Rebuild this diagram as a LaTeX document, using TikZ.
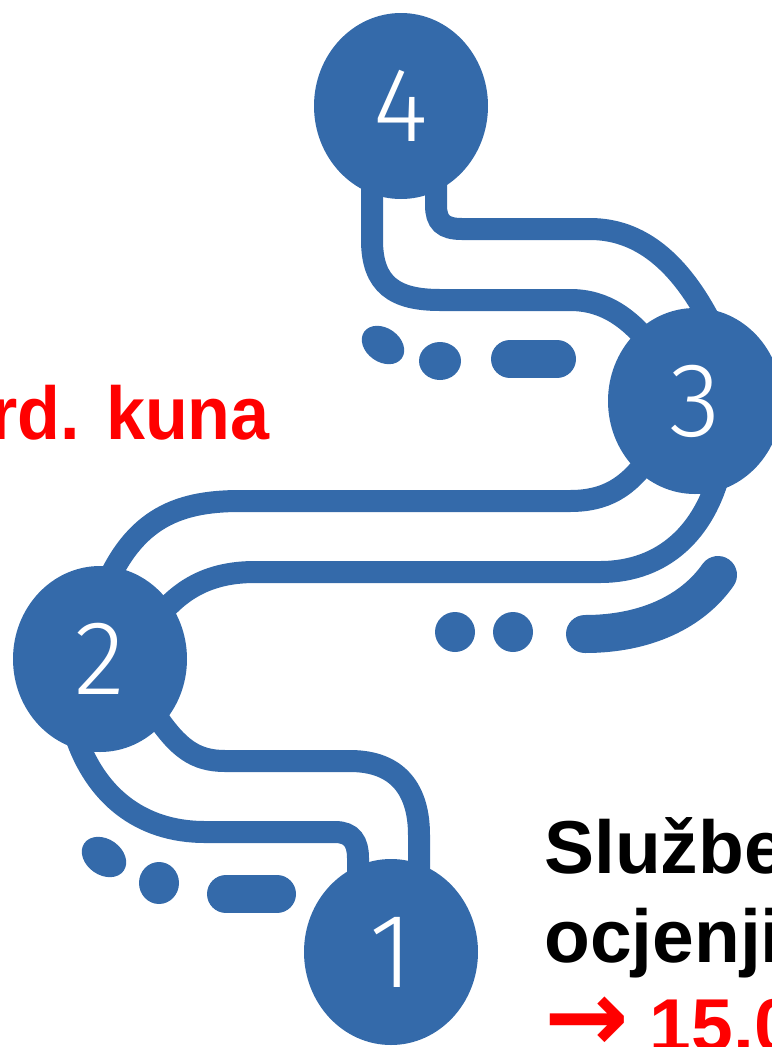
\documentclass[tikz,border=0pt]{standalone}
\usepackage{fontspec}
\setmainfont{Liberation Sans}
\newfontfamily\digitfont{Fira Sans Light}
\newfontfamily\arrowfont{DejaVu Sans}
\usetikzlibrary{shapes.geometric, calc, backgrounds}
\definecolor{roadblue}{RGB}{52,106,170}
\newlength\iconpx
\setlength\iconpx{0.025cm}
\tikzset{
    stop/.style={ % numbered stops along the road
        ellipse,
        fill=roadblue,
        inner sep=0pt,
        minimum width=174\iconpx,
        minimum height=186\iconpx,
        text=white,
        font=\digitfont\fontsize{75}{75}\selectfont
    },
    road/.style={draw=roadblue, line width=22\iconpx, line cap=round}, % edges of the road
    bar/.style={draw=roadblue, line width=38\iconpx, line cap=round}, % dashes beside the road
    dot/.style={ellipse, fill=roadblue, inner sep=0pt},
    caption/.style={inner sep=0pt, font=\bfseries\fontsize{53.3}{60}\selectfont},
}

\begin{document}
\begin{tikzpicture}[x=0.025cm, y=-0.025cm] % one unit is one pixel, y runs downwards
    \useasboundingbox (0,0) rectangle (771,1047);
    \node[stop] (s4) at (401,106) {4};
    \node[stop] (s3) at (695,401) {3};
    \node[stop] (s2) at (100,659) {2};
    \node[stop] (s1) at (391,952) {1};
    \begin{scope}[on background layer]
        % 4 -> 3
        \draw[road] ($(s4)+(-29,64)$) -- (372,240) .. controls (372,285) and (395,300) .. (440,300)
            -- (570,300) .. controls (605,300) and (630,318) .. ($(s3)+(-40,-51)$);
        \draw[road] ($(s4)+(35,69)$) -- (436,205) .. controls (436,222) and (443,229) .. (462,229)
            -- (590,229) .. controls (640,229) and (680,262) .. ($(s3)+(17,-76)$);
        % 3 -> 2
        \draw[road] ($(s3)+(-45,55)$) .. controls (628,488) and (605,501) .. (570,501)
            -- (240,501) .. controls (175,501) and (130,520) .. ($(s2)+(0,-59)$);
        \draw[road] ($(s3)+(25,70)$) .. controls (705,530) and (665,572) .. (600,572)
            -- (255,572) .. controls (215,572) and (185,585) .. ($(s2)+(60,-44)$);
        % 2 -> 1
        \draw[road] ($(s2)+(55,55)$) .. controls (178,748) and (195,761) .. (225,761)
            -- (350,761) .. controls (398,761) and (419,790) .. (419,835) -- ($(s1)+(28,-72)$);
        \draw[road] ($(s2)+(-25,75)$) .. controls (95,795) and (140,832) .. (205,832)
            -- (335,832) .. controls (352,832) and (358,842) .. (358,858) -- ($(s1)+(-33,-67)$);
    \end{scope}
    % dots and dashes
    \node[dot, minimum width=46\iconpx, minimum height=34\iconpx, rotate=-35] (d31) at (383,345) {};
    \node[dot, minimum width=42\iconpx, minimum height=38\iconpx] (d32) at (440,361) {};
    \draw[bar] (510,359) -- (557,359);
    \node[dot, minimum width=40\iconpx, minimum height=40\iconpx] (d21) at (455,632) {};
    \node[dot, minimum width=40\iconpx, minimum height=40\iconpx] (d22) at (513,632) {};
    \draw[bar] (585,634) .. controls (645,634) and (692,612) .. (718,575);
    \node[dot, minimum width=48\iconpx, minimum height=36\iconpx, rotate=-35] (d11) at (104,857) {};
    \node[dot, minimum width=40\iconpx, minimum height=42\iconpx] (d12) at (159,883) {};
    \draw[bar] (226,894) -- (277,894);
    % text cut off by the page
    \node[caption, text=red, anchor=base east] (mlrd) at (270,439) {\scalebox{0.935}[1]{rd. kuna}};
    \node[caption, anchor=base west] (sluzbe) at (544,873) {Službe};
    \node[caption, anchor=base west] (ocjena) at (544,962) {ocjenji};
    \node[caption, text=red, anchor=base west] (iznos) at (544,1051) {\scalebox{1.35}{\arrowfont →}~15.0};
\end{tikzpicture}
\end{document}
